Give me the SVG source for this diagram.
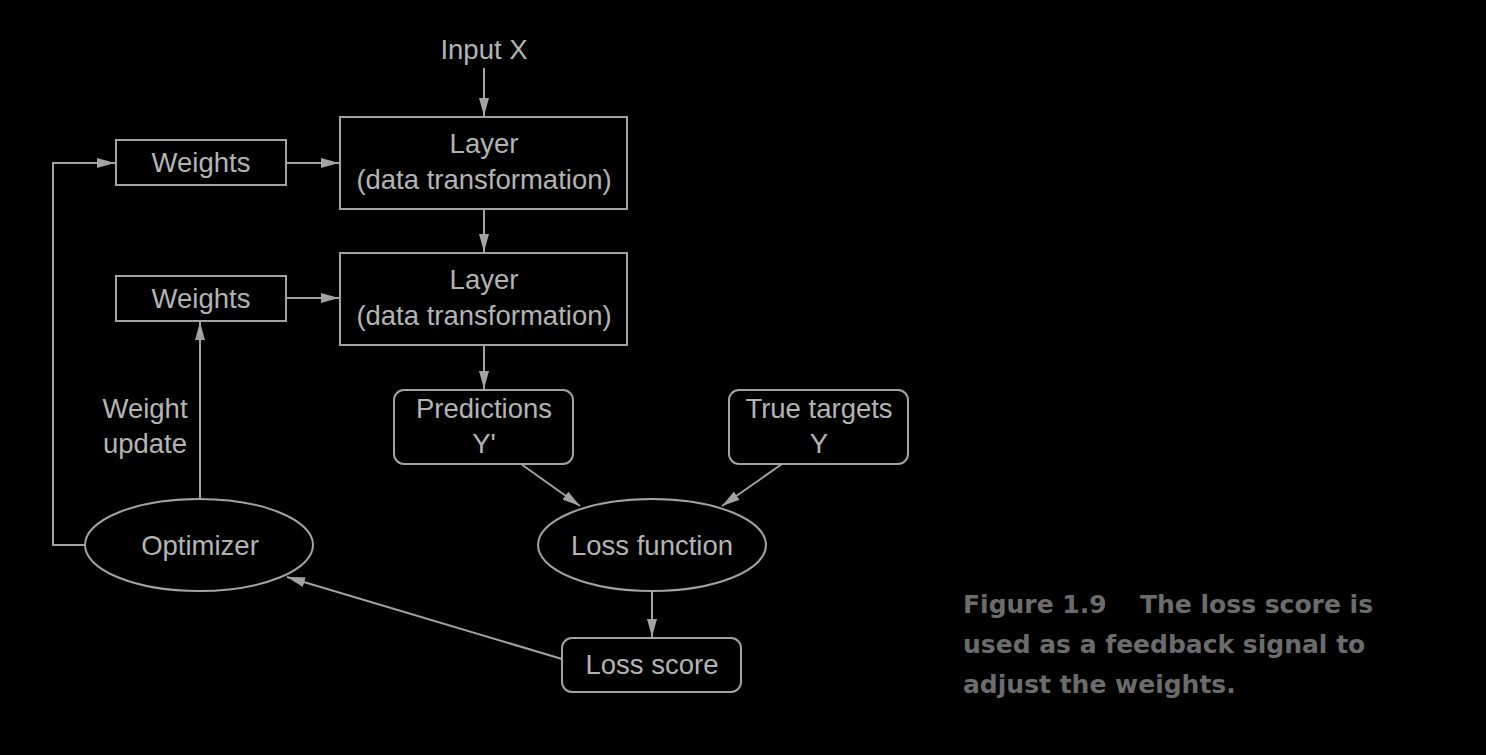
<svg xmlns="http://www.w3.org/2000/svg" width="1486" height="755" viewBox="0 0 1486 755">
<defs>
<style>
.bg{fill:#000}
.box{fill:none;stroke:#a3a3a3;stroke-width:2}
.t{font-family:"Liberation Sans",Arial,sans-serif;font-size:27.5px;fill:#b4b4b4;text-anchor:middle}
.ln{fill:none;stroke:#a3a3a3;stroke-width:2}
.cap{font-family:"DejaVu Sans","Liberation Sans",sans-serif;font-size:25px;font-weight:bold;fill:#6c6c6c}
</style>
<marker id="ah" viewBox="0 0 18 10" refX="18" refY="5" markerWidth="18" markerHeight="10" markerUnits="userSpaceOnUse" orient="auto">
<path d="M0,0 L18,5 L0,10 z" fill="#a3a3a3"/>
</marker>
</defs>
<rect class="bg" x="0" y="0" width="1486" height="755"/>

<g id="input"><text class="t" x="484" y="59">Input X</text></g>

<g id="layer1"><rect class="box" x="340" y="117" width="287" height="92"/>
<text class="t" x="484" y="153">Layer</text><text class="t" x="484" y="189">(data transformation)</text></g>

<g id="layer2"><rect class="box" x="340" y="253" width="287" height="92"/>
<text class="t" x="484" y="289">Layer</text><text class="t" x="484" y="325">(data transformation)</text></g>

<g id="weights1"><rect class="box" x="116" y="140" width="170" height="45"/>
<text class="t" x="201" y="172">Weights</text></g>

<g id="weights2"><rect class="box" x="116" y="276" width="170" height="45"/>
<text class="t" x="201" y="308">Weights</text></g>

<g id="predictions"><rect class="box" x="394" y="390" width="179" height="74" rx="10"/>
<text class="t" x="484" y="418">Predictions</text><text class="t" x="484" y="453">Y'</text></g>

<g id="targets"><rect class="box" x="729" y="390" width="179" height="74" rx="10"/>
<text class="t" x="819" y="418">True targets</text><text class="t" x="819" y="453">Y</text></g>

<g id="lossfn"><ellipse class="box" cx="652" cy="545" rx="114" ry="46"/>
<text class="t" x="652" y="555">Loss function</text></g>

<g id="optimizer"><ellipse class="box" cx="199" cy="545" rx="114" ry="46"/>
<text class="t" x="200" y="555">Optimizer</text></g>

<g id="lossscore"><rect class="box" x="562" y="638" width="179" height="54" rx="10"/>
<text class="t" x="652" y="674">Loss score</text></g>

<g id="update-label"><text class="t" x="145" y="418">Weight</text><text class="t" x="145" y="453">update</text></g>

<g id="connectors">
<line class="ln" x1="484" y1="68" x2="484" y2="116" marker-end="url(#ah)"/>
<line class="ln" x1="484" y1="209" x2="484" y2="252" marker-end="url(#ah)"/>
<line class="ln" x1="484" y1="345" x2="484" y2="389" marker-end="url(#ah)"/>
<line class="ln" x1="286" y1="163" x2="339" y2="163" marker-end="url(#ah)"/>
<line class="ln" x1="286" y1="298" x2="339" y2="298" marker-end="url(#ah)"/>
<polyline class="ln" points="85,545 53,545 53,163 115,163" marker-end="url(#ah)"/>
<line class="ln" x1="200" y1="499" x2="200" y2="322" marker-end="url(#ah)"/>
<line class="ln" x1="521" y1="464" x2="580" y2="506" marker-end="url(#ah)"/>
<line class="ln" x1="782" y1="464" x2="722" y2="506" marker-end="url(#ah)"/>
<line class="ln" x1="652" y1="591" x2="652" y2="637" marker-end="url(#ah)"/>
<line class="ln" x1="562" y1="659" x2="287" y2="577" marker-end="url(#ah)"/>
</g>

<g id="caption">
<text class="cap" x="963" y="613">Figure 1.9<tspan x="1140">The loss score is</tspan></text>
<text class="cap" x="963" y="653">used as a feedback signal to</text>
<text class="cap" x="963" y="693">adjust the weights.</text>
</g>
</svg>
